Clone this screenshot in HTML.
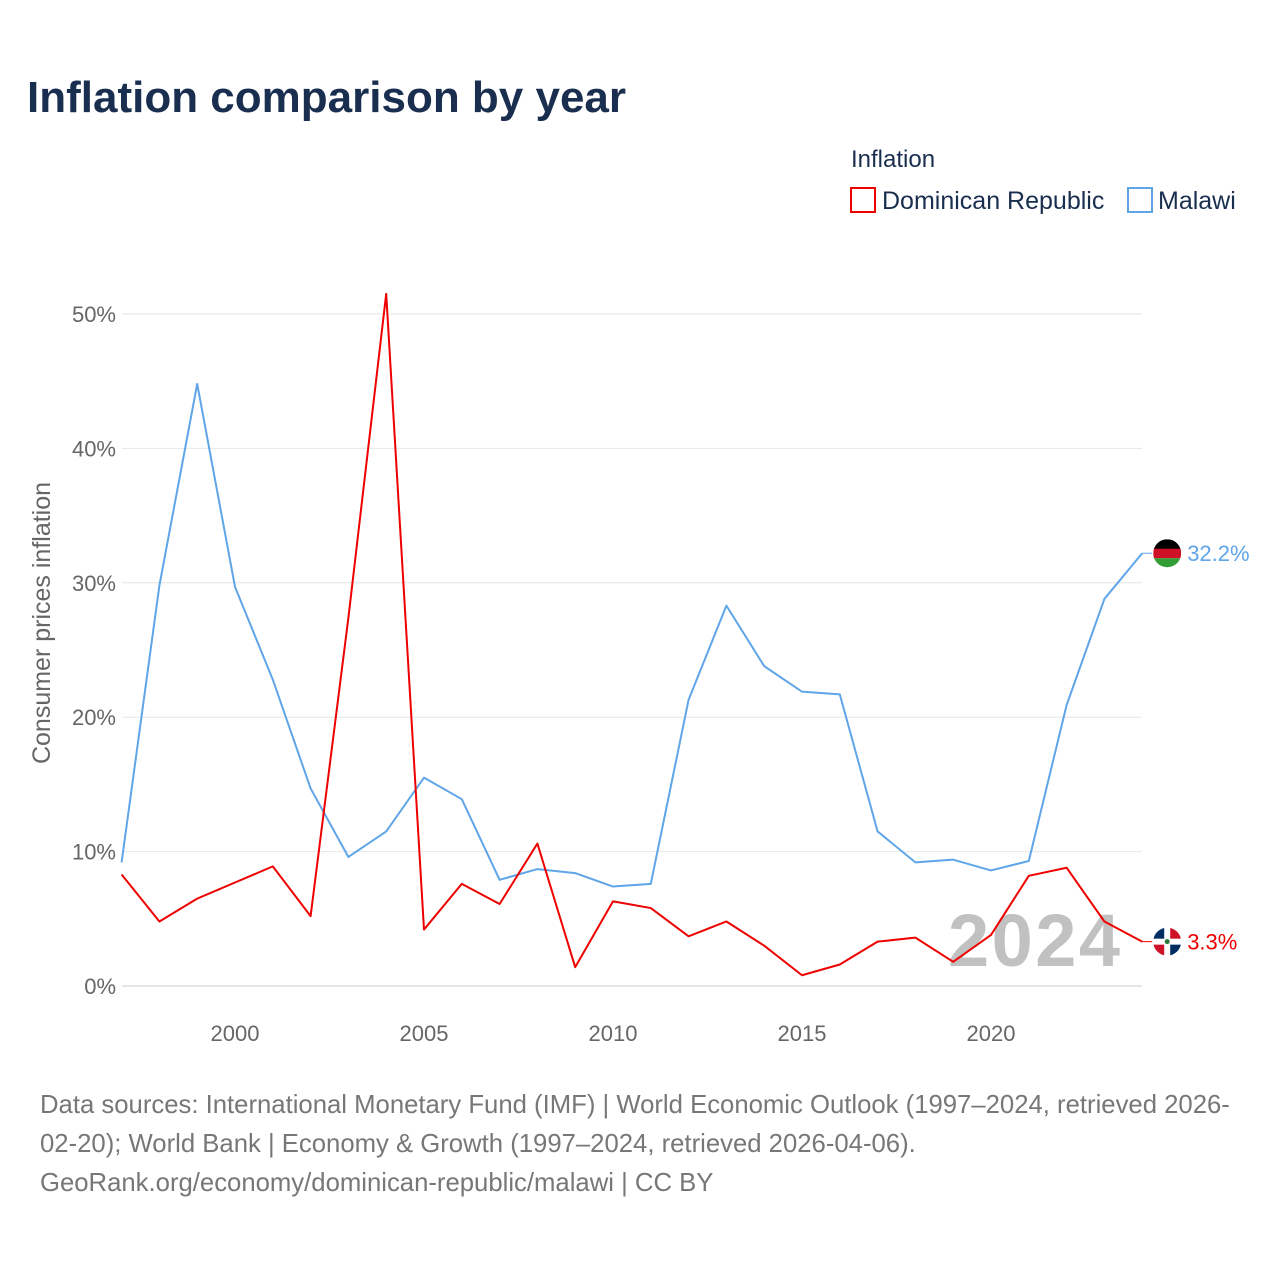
<!DOCTYPE html>
<html><head><meta charset="utf-8">
<style>
body{margin:0;background:#fff;font-family:"Liberation Sans",sans-serif;}
#wrap{position:relative;width:1280px;height:1280px;overflow:hidden;}
</style></head>
<body>
<div id="wrap">
<svg id="chart" width="1280" height="1280" xmlns="http://www.w3.org/2000/svg">
<text x="27" y="112" font-size="44" font-weight="bold" fill="#1a2e4f">Inflation comparison by year</text>
<text x="851" y="167" font-size="24" fill="#1a2e4f">Inflation</text>
<g>
<rect x="851" y="188" width="24" height="24" fill="none" stroke="#ee0000" stroke-width="2"/>
<text x="882" y="209" font-size="25" fill="#1a2e4f">Dominican Republic</text></g>
<g>
<rect x="1128" y="188" width="24" height="24" fill="none" stroke="#5fa5e8" stroke-width="2"/>
<text x="1158" y="209" font-size="25" fill="#1a2e4f">Malawi</text></g>
<text transform="translate(50,623) rotate(-90)" text-anchor="middle" font-size="25" fill="#666">Consumer prices inflation</text>
<g id="grid"></g><g id="xt"></g>
<text x="1120" y="966" text-anchor="end" font-size="74" font-weight="bold" fill="#bbb" opacity="0.9" textLength="172">2024</text>
<g id="series"></g>
<text x="40" y="1113" font-size="25.7" fill="#777">Data sources: International Monetary Fund (IMF) | World Economic Outlook (1997–2024, retrieved 2026-</text>
<text x="40" y="1152" font-size="25.7" fill="#777">02-20); World Bank | Economy &amp; Growth (1997–2024, retrieved 2026-04-06).</text>
<text x="40" y="1191" font-size="25.7" fill="#777">GeoRank.org/economy/dominican-republic/malawi | CC BY</text>
</svg></div>
<script>
const years=[1997,1998,1999,2000,2001,2002,2003,2004,2005,2006,2007,2008,2009,2010,2011,2012,2013,2014,2015,2016,2017,2018,2019,2020,2021,2022,2023,2024];
const malawi=[9.2,29.8,44.8,29.7,22.8,14.7,9.6,11.5,15.5,13.9,7.9,8.7,8.4,7.4,7.6,21.3,28.3,23.8,21.9,21.7,11.5,9.2,9.4,8.6,9.3,20.9,28.8,32.2];
const dominican=[8.3,4.8,6.5,7.7,8.9,5.2,27.4,51.5,4.2,7.6,6.1,10.6,1.4,6.3,5.8,3.7,4.8,3.0,0.8,1.6,3.3,3.6,1.8,3.8,8.2,8.8,4.8,3.3];
const yTicks=[0,10,20,30,40,50];
const xTicks=[2000,2005,2010,2015,2020];
const NS="http://www.w3.org/2000/svg";
const X=y=>121.6+(y-1997)*37.8;
const Y=v=>986-v*13.44;
function mk(t,a,p){const e=document.createElementNS(NS,t);for(const k in a)e.setAttribute(k,a[k]);p.appendChild(e);return e;}
const grid=document.getElementById('grid');
yTicks.forEach(v=>{
 const l=mk('line',{x1:122,x2:1142,y1:Y(v),y2:Y(v),stroke:v===0?'#ccc':'#e6e6e6','stroke-width':1},grid);
 
 
 const t=mk('text',{x:116,y:Y(v)+8,'text-anchor':'end','font-size':22,fill:'#666'},grid);
 t.textContent=v+'%';
 
 
});
const xt=document.getElementById('xt');
xTicks.forEach(y=>{
 const t=mk('text',{x:X(y),y:1041,'text-anchor':'middle','font-size':22,fill:'#666'},xt);
 t.textContent=y;
 
 
});
const s=document.getElementById('series');
function line(vals,col,name,lbl,fl){
 const p=mk('polyline',{points:vals.map((v,i)=>X(years[i])+','+Y(v)).join(' '),fill:'none',stroke:col,'stroke-width':2,'stroke-linejoin':'round'},s);
 
 
 const last=vals[vals.length-1],lx=X(years[years.length-1]),ly=Y(last);
 mk('line',{x1:lx,x2:lx+10,y1:ly,y2:ly,stroke:col,'stroke-width':1},s);
 const g=mk('g',{},s);
 
 
 fl(g,lx+25,ly);
 const t=mk('text',{x:lx+45,y:ly+8,'font-size':22,fill:col},s);
 t.textContent=lbl(last);
 
 
}
line(malawi,'#5fa5e8','malawi',v=>v.toFixed(1)+'%',(g,cx,cy)=>{
 mk('clipPath',{id:'cm'},g).appendChild(document.createElementNS(NS,'circle'));
 const c=g.querySelector('#cm circle');c.setAttribute('cx',cx);c.setAttribute('cy',cy);c.setAttribute('r',14);
 mk('rect',{x:cx-14,y:cy-14,width:28,height:10,fill:'#000','clip-path':'url(#cm)'},g);
 mk('rect',{x:cx-14,y:cy-4.5,width:28,height:9.5,fill:'#ce1126','clip-path':'url(#cm)'},g);
 mk('rect',{x:cx-14,y:cy+5,width:28,height:10,fill:'#339e35','clip-path':'url(#cm)'},g);
});
line(dominican,'#ee0000','dominican',v=>v.toFixed(1)+'%',(g,cx,cy)=>{
 mk('clipPath',{id:'cd'},g).appendChild(document.createElementNS(NS,'circle'));
 const c=g.querySelector('#cd circle');c.setAttribute('cx',cx);c.setAttribute('cy',cy);c.setAttribute('r',14);
 mk('rect',{x:cx-14,y:cy-14,width:28,height:28,fill:'#fff','clip-path':'url(#cd)'},g);
 mk('rect',{x:cx-14,y:cy-14,width:11,height:11,fill:'#002d62','clip-path':'url(#cd)'},g);
 mk('rect',{x:cx+3,y:cy-14,width:11,height:11,fill:'#ce1126','clip-path':'url(#cd)'},g);
 mk('rect',{x:cx-14,y:cy+3,width:11,height:11,fill:'#ce1126','clip-path':'url(#cd)'},g);
 mk('rect',{x:cx+3,y:cy+3,width:11,height:11,fill:'#002d62','clip-path':'url(#cd)'},g);
 mk('circle',{cx:cx,cy:cy,r:2.5,fill:'#2a7a3a'},g);
});
</script>
</body></html>
